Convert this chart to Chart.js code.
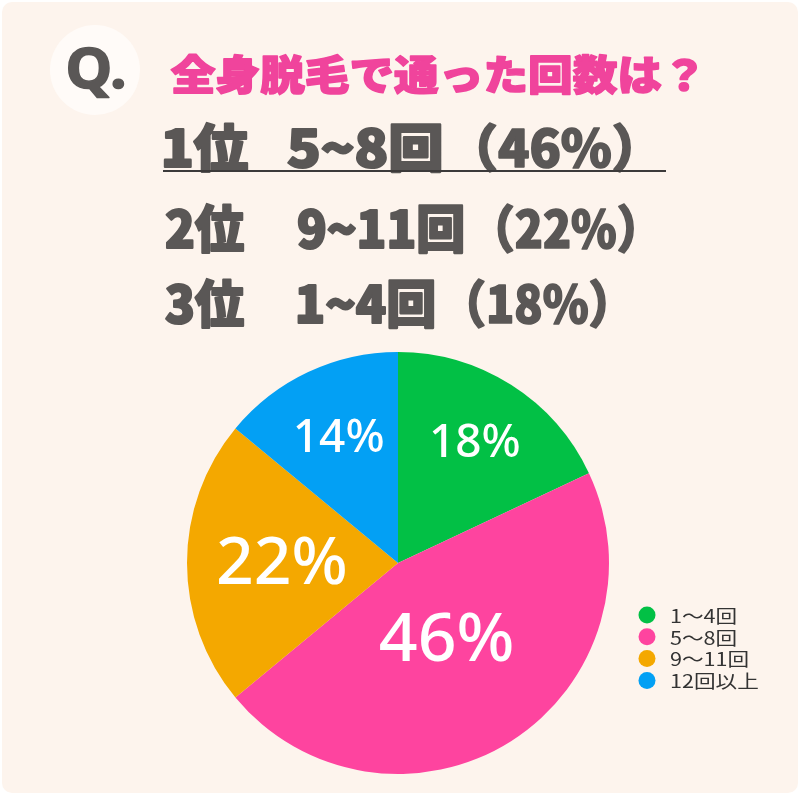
<!DOCTYPE html>
<html>
<head>
<meta charset="utf-8">
<script src="https://cdn.jsdelivr.net/npm/chart.js@4.4.1/dist/chart.umd.min.js"></script>
<style>
  html, body { margin: 0; padding: 0; background: #fff; }
  canvas { display: block; }
</style>
</head>
<body>
<canvas id="myPieChart" width="800" height="795"></canvas>
<script>
// chart data
const categories = ['1〜4回', '5〜8回', '9〜11回', '12回以上'];
const shares = [18, 46, 22, 14];
const sliceColors = ['#02c045', '#fe449f', '#f4a800', '#03a0f4'];

// header texts
const question = '全身脱毛で通った回数は？';
const rankNames = ['1位', '2位', '3位'];
const rankRanges = ['5~8回', '9~11回', '1~4回'];
const rankShares = ['（46%）', '（22%）', '（18%）'];

const GRAY = '#5a5756';
const CJK = '"Noto Sans CJK JP", "Noto Sans", sans-serif';

// draw text so its ink spans x0..x1, optional stroke to thicken
function fitInk(ctx, text, x0, x1, baseline, font, sy, color, thick) {
  ctx.font = font;
  const m = ctx.measureText(text);
  const inkW = m.actualBoundingBoxLeft + m.actualBoundingBoxRight;
  const sx = (x1 - x0) / inkW;
  ctx.save();
  ctx.fillStyle = color;
  ctx.strokeStyle = color;
  ctx.lineJoin = 'round';
  ctx.textAlign = 'left';
  ctx.textBaseline = 'alphabetic';
  ctx.translate(x0, baseline);
  ctx.scale(sx, sy);
  if (thick) {
    ctx.lineWidth = thick;
    ctx.strokeText(text, m.actualBoundingBoxLeft + thick / 2, 0);
    ctx.fillText(text, m.actualBoundingBoxLeft + thick / 2, 0);
  } else {
    ctx.fillText(text, m.actualBoundingBoxLeft, 0);
  }
  ctx.restore();
}

const headerPlugin = {
  id: 'header',
  beforeDraw(chart) {
    const ctx = chart.ctx;
    ctx.save();
    ctx.fillStyle = '#ffffff';
    ctx.fillRect(0, 0, 800, 795);
    ctx.fillStyle = '#fdf4ed';
    ctx.beginPath();
    ctx.roundRect(2, 2, 796, 791, 10);
    ctx.fill();

    // Q badge
    ctx.fillStyle = '#fffbf8';
    ctx.beginPath();
    ctx.arc(95, 70, 45, 0, Math.PI * 2);
    ctx.fill();
    fitInk(ctx, 'Q.', 68, 123, 88, 'bold 56px "Noto Sans", sans-serif', 1, GRAY, 1.5);

    fitInk(ctx, question, 170, 696, 90, '900 41px ' + CJK, 1.0, '#f0449c', 1.6);

    // ranking lines
    const lines = [
      { base: 167, name: [163, 247], range: [287, 440], share: [478, 630] },
      { base: 248, name: [165, 243], range: [297, 462], share: [497, 633] },
      { base: 323, name: [165, 243], range: [297, 433], share: [468, 605] }
    ];
    lines.forEach((ln, i) => {
      const font = '900 46px ' + CJK;
      fitInk(ctx, rankNames[i], ln.name[0], ln.name[1], ln.base, font, 1.1, GRAY, 2);
      fitInk(ctx, rankRanges[i], ln.range[0], ln.range[1], ln.base, font, 1.1, GRAY, 2);
      fitInk(ctx, rankShares[i], ln.share[0], ln.share[1], ln.base, '900 46px ' + CJK, 1.1, GRAY, 1.5);
    });

    ctx.strokeStyle = '#3c3a3a';
    ctx.lineWidth = 2;
    ctx.beginPath();
    ctx.moveTo(163, 171);
    ctx.lineTo(666, 171);
    ctx.stroke();
    ctx.restore();
  }
};

// percentage labels inside slices
const labelStyle = { radial: [0.68, 0.43, 0.55, 0.66], size: [46, 68, 66, 46] };
const sliceLabels = {
  id: 'sliceLabels',
  afterDatasetsDraw(chart) {
    const ctx = chart.ctx;
    const meta = chart.getDatasetMeta(0);
    ctx.save();
    ctx.fillStyle = '#ffffff';
    ctx.textAlign = 'center';
    ctx.textBaseline = 'middle';
    meta.data.forEach((arc, i) => {
      const p = arc.getProps(['x', 'y', 'startAngle', 'endAngle', 'outerRadius']);
      const mid = (p.startAngle + p.endAngle) / 2;
      const r = p.outerRadius * labelStyle.radial[i];
      ctx.font = '500 ' + labelStyle.size[i] + 'px "Noto Sans", sans-serif';
      ctx.fillText(chart.data.datasets[0].data[i] + '%', p.x + r * Math.cos(mid), p.y + r * Math.sin(mid) + 2);
    });
    ctx.restore();
  }
};

const dotLegend = {
  id: 'dotLegend',
  afterDraw(chart) {
    const ctx = chart.ctx;
    const colors = chart.data.datasets[0].backgroundColor;
    ctx.save();
    ctx.textAlign = 'left';
    ctx.textBaseline = 'middle';
    ctx.font = '18px ' + CJK;
    chart.data.labels.forEach((label, i) => {
      const y = 615 + i * 21.8;
      ctx.fillStyle = colors[i];
      ctx.beginPath();
      ctx.arc(647, y, 8.5, 0, Math.PI * 2);
      ctx.fill();
      ctx.fillStyle = '#333333';
      ctx.save();
      ctx.translate(670, y + 1);
      ctx.scale(1.2, 1);
      ctx.fillText(label, 0, 0);
      ctx.restore();
    });
    ctx.restore();
  }
};

const ctx = document.getElementById('myPieChart').getContext('2d');
new Chart(ctx, {
  type: 'pie',
  data: {
    labels: categories,
    datasets: [{
      data: shares,
      backgroundColor: sliceColors,
      borderWidth: 0
    }]
  },
  options: {
    responsive: false,
    animation: false,
    layout: {
      padding: { left: 187, right: 191, top: 352, bottom: 21 }
    },
    plugins: {
      legend: { display: false },
      tooltip: { enabled: false }
    }
  },
  plugins: [headerPlugin, sliceLabels, dotLegend]
});
</script>
</body>
</html>
